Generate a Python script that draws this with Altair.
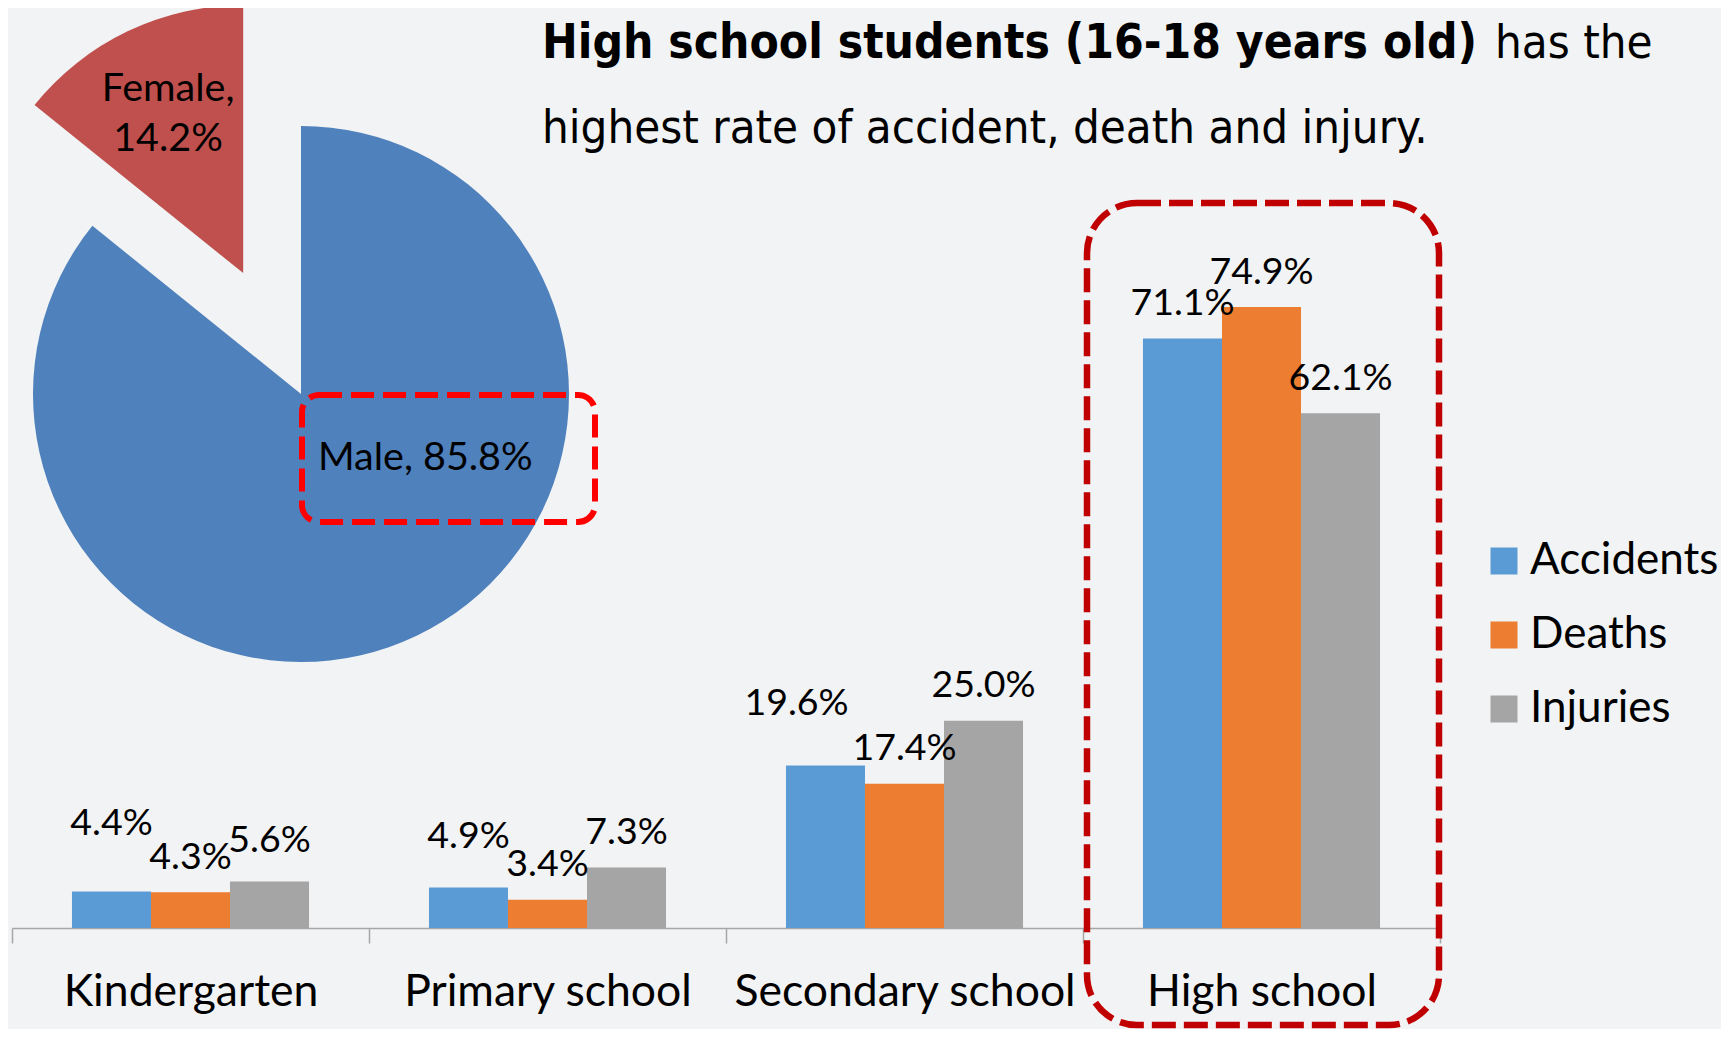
import altair as alt
import pandas as pd

# ---------------- data ----------------
levels = ["Kindergarten", "Primary school", "Secondary school", "High school"]
series = ["Accidents", "Deaths", "Injuries"]
accidents = [4.4, 4.9, 19.6, 71.1]
deaths = [4.3, 3.4, 17.4, 74.9]
injuries = [5.6, 7.3, 25.0, 62.1]

genders = ["Male", "Female"]
gender_share = [85.8, 14.2]
exploded = ["Female"]

title_bold = "High school students (16-18 years old)"
title_rest = "has the"
title_line2 = "highest rate of accident, death and injury."

# ---------------- style / layout ----------------
series_colors = ["#5B9BD5", "#ED7D31", "#A5A5A5"]
gender_colors = ["#4F81BD", "#C0504D"]
BG = "#F2F3F4"
LABEL_FONT = "Lato"
TITLE_FONT = "DejaVu Sans Condensed, DejaVu Sans"

W, H_VIEW, PAD_B = 1713, 920, 101
PX_PER_PCT = 8.29
X_RANGE = [4, 1432]
GROUP_FRAC = 0.664                      # share of each category slot taken by its bars
OFF_PAD = (3 / GROUP_FRAC - 3) / 2      # outer padding of the series offset scale

CX, CY, R, EXPLODE = 293, 386, 268, 134

# label nudges (dx, dy in px) for the hand-moved labels of the original
label_nudge = {
    ("Kindergarten", "Accidents"): (0, -33),
    ("Kindergarten", "Injuries"): (0, -6),
    ("Primary school", "Accidents"): (0, -15.5),
    ("Secondary school", "Accidents"): (-29, -27.5),
}
BASE_DY = -23.5

rows = []
for s, vals in zip(series, [accidents, deaths, injuries]):
    for lv, v in zip(levels, vals):
        rows.append({"level": lv, "series": s, "value": v})
bars_df = pd.DataFrame(rows)
bars_df["nudge"] = [str(label_nudge.get((r.level, r.series), (0, 0))) for r in bars_df.itertuples()]

x_enc = alt.X(
    "level:N",
    sort=levels,
    scale=alt.Scale(domain=levels, range=X_RANGE, paddingInner=0, paddingOuter=0),
    axis=alt.Axis(
        title=None, labelAngle=0, tickBand="extent", tickSize=15, tickWidth=1.5,
        tickColor="#A6A6A6", domainColor="#A6A6A6", domainWidth=1.5,
        labelFont=LABEL_FONT, labelFontSize=44.5, labelColor="#000000",
        labelBaseline="alphabetic", labelPadding=62, labelLimit=0, grid=False,
    ),
)
xoff_enc = alt.XOffset("series:N", sort=series,
                       scale=alt.Scale(domain=series, paddingInner=0, paddingOuter=OFF_PAD))
y_enc = alt.Y("value:Q", scale=alt.Scale(domain=[0, H_VIEW / PX_PER_PCT], nice=False, zero=True), axis=None)

base = alt.Chart(bars_df)
bars = base.mark_bar().encode(
    x=x_enc,
    xOffset=xoff_enc,
    y=y_enc,
    color=alt.Color(
        "series:N", sort=series,
        scale=alt.Scale(domain=series, range=series_colors),
        legend=alt.Legend(
            title=None, orient="none", legendX=1474, legendY=531,
            symbolType="square", symbolSize=729, symbolStrokeWidth=0, symbolOpacity=1,
            labelFont=LABEL_FONT, labelFontSize=44, labelColor="#000000", labelLimit=0,
            labelOffset=4, rowPadding=30, padding=0,
        ),
    ),
)

label_layers = []
for nd in sorted(set(bars_df["nudge"])):
    dx, dy = eval(nd)
    label_layers.append(
        base.transform_filter(alt.datum.nudge == nd)
        .transform_calculate(label="format(datum.value, '.1f') + '%'")
        .mark_text(font=LABEL_FONT, fontSize=37.5, color="#000000", baseline="alphabetic",
                   align="center", dx=dx, dy=BASE_DY + dy)
        .encode(x=x_enc, xOffset=xoff_enc, y=y_enc, text="label:N")
    )

hs_box = alt.Chart(alt.Data(values=[{}])).mark_rect(
    filled=False, stroke="#C00000", strokeWidth=6.5, strokeDash=[24, 8], cornerRadius=50
).encode(x=alt.value(1079), x2=alt.value(1431), y=alt.value(195), y2=alt.value(1017))

bar_block = alt.layer(bars, *label_layers, hs_box)

# ---------------- pie ----------------
pie_df = pd.DataFrame({"gender": genders, "share": gender_share, "order": list(range(len(genders)))})
pie_base = (
    alt.Chart(pie_df)
    .transform_window(end="sum(share)", sort=[alt.SortField("order")], frame=[None, 0])
    .transform_calculate(
        start="datum.end - datum.share",
        mid="(datum.start + datum.end) / 100 * PI",
        shift=f"indexof({exploded}, datum.gender) >= 0 ? {EXPLODE} : 0",
    )
    .transform_calculate(
        px=f"{CX} + datum.shift * sin(datum.mid)",
        py=f"{CY} - datum.shift * cos(datum.mid)",
    )
)
pie = pie_base.mark_arc(radius=R).encode(
    theta=alt.Theta("start:Q", scale=alt.Scale(domain=[0, 100]), stack=False),
    theta2="end:Q",
    x=alt.X("px:Q", scale=None, axis=None),
    y=alt.Y("py:Q", scale=None, axis=None),
    color=alt.Color("gender:N", scale=alt.Scale(domain=genders, range=gender_colors), legend=None),
)

male_label = (
    alt.Chart(pie_df).transform_filter(alt.datum.gender == "Male")
    .transform_calculate(label="datum.gender + ', ' + format(datum.share, '.1f') + '%'")
    .mark_text(font=LABEL_FONT, fontSize=39.5, color="#000000", align="left", baseline="alphabetic")
    .encode(x=alt.value(310), y=alt.value(462), text="label:N")
)
female_label = (
    alt.Chart(pie_df).transform_filter(alt.datum.gender == "Female")
    .transform_calculate(label="[datum.gender + ',', format(datum.share, '.1f') + '%']")
    .mark_text(font=LABEL_FONT, fontSize=39.5, color="#000000", align="center",
               baseline="alphabetic", lineHeight=50)
    .encode(x=alt.value(160), y=alt.value(93), text="label:N")
)
male_box = alt.Chart(alt.Data(values=[{}])).mark_rect(
    filled=False, stroke="#FF0000", strokeWidth=6, strokeDash=[23, 9], cornerRadius=17
).encode(x=alt.value(294), x2=alt.value(587), y=alt.value(387), y2=alt.value(514))

# ---------------- headline ----------------
t1 = alt.Chart(alt.Data(values=[{}])).mark_text(
    text=title_bold, font=TITLE_FONT, fontSize=47.5, fontWeight="bold", color="#000000",
    align="left", baseline="alphabetic"
).encode(x=alt.value(534), y=alt.value(50))
t1b = alt.Chart(alt.Data(values=[{}])).mark_text(
    text=title_rest, font=TITLE_FONT, fontSize=47, color="#000000",
    align="left", baseline="alphabetic"
).encode(x=alt.value(1487), y=alt.value(50))
t2 = alt.Chart(alt.Data(values=[{}])).mark_text(
    text=title_line2, font=TITLE_FONT, fontSize=47, color="#000000",
    align="left", baseline="alphabetic"
).encode(x=alt.value(534), y=alt.value(135))

chart = (
    alt.layer(pie, male_label, female_label, male_box, t1, t1b, t2, bar_block)
    .resolve_scale(x="independent", y="independent", color="independent", theta="independent")
    .properties(
        width=W, height=H_VIEW,
        autosize=alt.AutoSizeParams(type="none"),
        padding={"left": 0, "top": 0, "right": 0, "bottom": PAD_B},
        background=BG,
    )
    .configure_view(stroke=None)
)

chart.save("out.html", embed_options={"renderer": "svg", "actions": False})
